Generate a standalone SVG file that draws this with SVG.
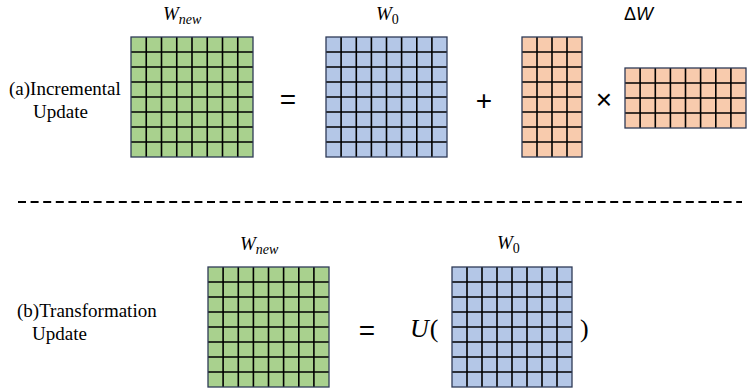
<svg xmlns="http://www.w3.org/2000/svg" width="747" height="389" viewBox="0 0 747 389">
<style>
.g{fill:#A9D18E}
.b{fill:#B4C7E7}
.o{fill:#F8CBAD}
.bd{fill:none;stroke:#2F3B57;stroke-width:1.3}
.ln{fill:none;stroke:#000;stroke-width:1.6}
.lbl{font-family:"Liberation Serif",serif;font-size:19px;fill:#000}
.math{font-family:"Liberation Serif",serif;font-style:italic;fill:#000}
.up{font-style:normal}
.op{font-family:"Liberation Sans",sans-serif;font-size:28px;fill:#000}
</style>
<rect width="747" height="389" fill="#fff"/>

<g id="label-a">
<text class="lbl" x="9" y="95">(a)Incremental</text>
<text class="lbl" x="33" y="118">Update</text>
</g>

<g id="wnew-top">
<text class="math" x="163" y="20" font-size="19">W<tspan font-size="14" dy="4">new</tspan></text>
<rect class="g" x="131" y="37" width="122" height="120"/>
<path class="ln" d="M146.25 37V157M161.5 37V157M176.75 37V157M192 37V157M207.25 37V157M222.5 37V157M237.75 37V157M131 52H253M131 67H253M131 82H253M131 97H253M131 112H253M131 127H253M131 142H253"/>
<rect class="bd" x="131" y="37" width="122" height="120"/>
</g>

<g id="w0-top">
<text class="math" x="376" y="20" font-size="19">W<tspan class="up" font-size="14" dy="4">0</tspan></text>
<rect class="b" x="326" y="37" width="121" height="120"/>
<path class="ln" d="M341.1 37V157M356.3 37V157M371.4 37V157M386.5 37V157M401.6 37V157M416.8 37V157M431.9 37V157M326 52H447M326 67H447M326 82H447M326 97H447M326 112H447M326 127H447M326 142H447"/>
<rect class="bd" x="326" y="37" width="121" height="120"/>
</g>

<g id="deltaw-label">
<text x="624" y="20" font-family="Liberation Sans,sans-serif" font-size="18">Δ<tspan font-style="italic">W</tspan></text>
</g>

<g id="dw-a">
<rect class="o" x="522" y="37" width="60" height="120"/>
<path class="ln" d="M537 37V157M552 37V157M567 37V157M522 52H582M522 67H582M522 82H582M522 97H582M522 112H582M522 127H582M522 142H582"/>
<rect class="bd" x="522" y="37" width="60" height="120"/>
</g>

<g id="dw-b">
<rect class="o" x="625" y="68" width="121" height="60"/>
<path class="ln" d="M640.1 68V128M655.3 68V128M670.4 68V128M685.5 68V128M700.6 68V128M715.8 68V128M730.9 68V128M625 83H746M625 98H746M625 113H746"/>
<rect class="bd" x="625" y="68" width="121" height="60"/>
</g>

<g id="ops-top">
<text class="op" x="288" y="109" text-anchor="middle">=</text>
<text class="op" x="484" y="110" text-anchor="middle">+</text>
<text class="op" x="604" y="109" text-anchor="middle">×</text>
</g>

<g id="separator">
<line x1="18" y1="202" x2="742" y2="202" stroke="#000" stroke-width="2" stroke-dasharray="8 4.6"/>
</g>

<g id="label-b">
<text class="lbl" x="17" y="317">(b)Transformation</text>
<text class="lbl" x="32" y="340">Update</text>
</g>

<g id="wnew-bottom">
<text class="math" x="240" y="250" font-size="19">W<tspan font-size="14" dy="4">new</tspan></text>
<rect class="g" x="208" y="267" width="121" height="120"/>
<path class="ln" d="M223.1 267V387M238.3 267V387M253.4 267V387M268.5 267V387M283.6 267V387M298.8 267V387M313.9 267V387M208 282H329M208 297H329M208 312H329M208 327H329M208 342H329M208 357H329M208 372H329"/>
<rect class="bd" x="208" y="267" width="121" height="120"/>
</g>

<g id="w0-bottom">
<text class="math" x="497" y="249" font-size="19">W<tspan class="up" font-size="14" dy="4">0</tspan></text>
<rect class="b" x="452" y="267" width="120" height="120"/>
<path class="ln" d="M467 267V387M482 267V387M497 267V387M512 267V387M527 267V387M542 267V387M557 267V387M452 282H572M452 297H572M452 312H572M452 327H572M452 342H572M452 357H572M452 372H572"/>
<rect class="bd" x="452" y="267" width="120" height="120"/>
</g>

<g id="ops-bottom">
<text class="op" x="367" y="340" text-anchor="middle">=</text>
<text class="math" x="410" y="337" font-size="26">U<tspan class="up" dx="1">(</tspan></text>
<text class="math up" x="580" y="337" font-size="26">)</text>
</g>
</svg>
